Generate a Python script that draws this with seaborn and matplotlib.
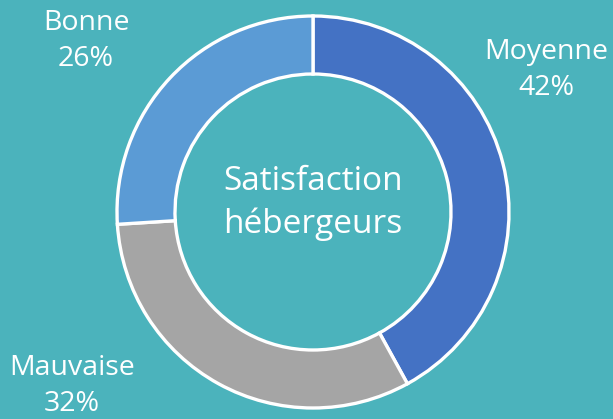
import matplotlib
matplotlib.use('Agg')
import matplotlib.pyplot as plt
import seaborn as sns

categories = ['Moyenne', 'Mauvaise', 'Bonne']
shares = [42, 32, 26]
colors = ['#4472C4', '#A5A5A5', '#5B9BD5']
center_title = 'Satisfaction\nhébergeurs'

# label anchor points (pixels from top-left)
label_pos = {'Moyenne': (546, 70), 'Mauvaise': (72, 386), 'Bonne': (86, 41)}

BG = '#4BB3BC'

sns.set_theme(style='white')
plt.rcParams['font.family'] = ['Open Sans', 'DejaVu Sans']

W, H = 613, 419
fig = plt.figure(figsize=(W / 100, H / 100), dpi=100, facecolor=BG)
ax = fig.add_axes([0, 0, 1, 1])
ax.set_facecolor(BG)

ax.pie(shares, colors=colors, startangle=90, counterclock=False,
       center=(313, H - 212), radius=196, frame=True,
       wedgeprops=dict(width=58, edgecolor='white', linewidth=2.4))
ax.set_xlim(0, W)
ax.set_ylim(0, H)
ax.set_aspect('equal')
ax.axis('off')

for cat, val in zip(categories, shares):
    x, y = label_pos[cat]
    ax.text(x, H - y, f'{cat}\n{val}%', ha='center', va='center',
            color='white', fontsize=20.5, linespacing=1.4)

ax.text(313, H - 203, center_title, ha='center', va='center',
        color='white', fontsize=24, linespacing=1.4)

fig.savefig('out.png', dpi=100, facecolor=BG)
